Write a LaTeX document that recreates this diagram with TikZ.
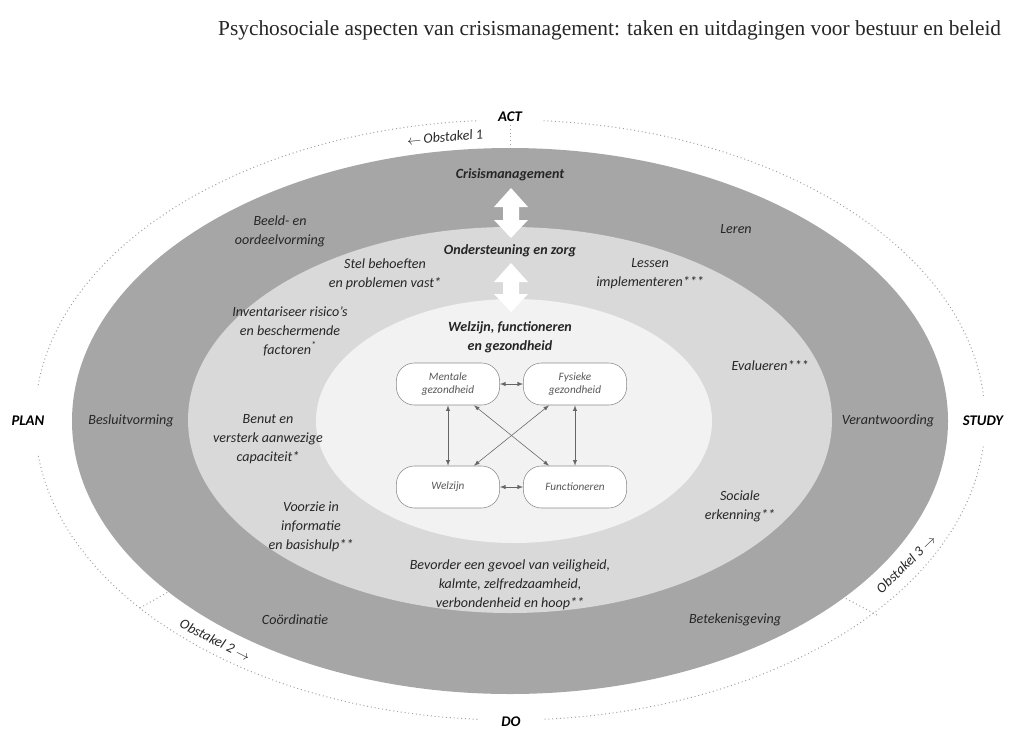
\documentclass[tikz,border=0pt]{standalone}
\usepackage{fontspec}
\setmainfont{Carlito}
\newfontfamily\titlefont{Liberation Serif}
\usepackage{xcolor}
\usepackage{tikz}
\usetikzlibrary{arrows}
\usetikzlibrary{calc}

\definecolor{ringdark}{HTML}{A6A6A6}
\definecolor{ringmid}{HTML}{D9D9D9}
\definecolor{ringcore}{HTML}{F2F2F2}
\definecolor{dotgray}{HTML}{A0A0A0}
\definecolor{ink}{HTML}{262626}
\definecolor{boxline}{HTML}{8C8C8C}

\tikzset{
  lbl/.style={font=\itshape\fontsize{10}{13.5}\selectfont, text=ink, align=center, inner sep=1pt},
  kop/.style={font=\bfseries\itshape\fontsize{10}{13.5}\selectfont, text=ink, align=center, inner sep=1pt},
  pdsa/.style={font=\bfseries\itshape\fontsize{10.5}{12}\selectfont, text=black, fill=white},
  obst/.style={font=\itshape\fontsize{10}{12}\selectfont, text=ink, inner sep=1pt},
  statebox/.style={draw=boxline, fill=white, rounded corners=0.45cm, minimum width=2.58cm, minimum height=1.05cm, align=center, font=\itshape\fontsize{8}{9.5}\selectfont, text=black!65},
  link/.style={<->, >=latex, draw=black!60, line width=0.4pt},
  ring/.style={dotted, draw=dotgray, line width=0.7pt}
}

\begin{document}
\begin{tikzpicture}[x=0.025cm,y=-0.025cm]
\useasboundingbox (0,0) rectangle (1018,731);

\node[anchor=east, font=\titlefont\fontsize{15.2}{17}\selectfont, text=black!85] (title) at (1006,30) {Psychosociale aspecten van crisismanagement: taken en uitdagingen voor bestuur en beleid};

% PDSA cyclus
\draw[ring] (510,420) ellipse [x radius=475, y radius=300];
\node[pdsa, inner xsep=15pt, inner ysep=2pt] (act) at (510,117) {ACT};
\node[pdsa, inner xsep=2pt, inner ysep=20pt] (plan) at (28,421) {PLAN};
\node[pdsa, inner xsep=2pt, inner ysep=14pt] (study) at (983,421) {STUDY};
\node[pdsa, inner xsep=16pt, inner ysep=2pt] (do) at (511,722) {DO};

% ringen
\fill[ringdark] (510,421) ellipse [x radius=438, y radius=273];
\fill[ringmid] (510,420) ellipse [x radius=322, y radius=193];
\fill[ringcore] (514,421) ellipse [x radius=198, y radius=122];

% obstakels
\coordinate (tick1) at (510,148);
\coordinate (tick2a) at (140,608);
\coordinate (tick2b) at (168,592);
\coordinate (tick3a) at (877,615);
\coordinate (tick3b) at (845,598);
\draw[ring] (act.south) -- (tick1);
\draw[ring] (tick2a) -- (tick2b);
\draw[ring] (tick3a) -- (tick3b);
\node[obst, rotate=5] (obst1) at (445,137) {$\leftarrow$\,Obstakel 1};
\node[obst, rotate=-27] (obst2) at (215,640) {Obstakel 2 $\rightarrow$};
\node[obst, rotate=44] (obst3) at (906,564) {Obstakel 3 $\rightarrow$};

% koppen en pijlen
\node[kop] (crisis) at (510,175) {Crisismanagement};
\node[kop] (zorg) at (510,251) {Ondersteuning en zorg};
\node[kop] (welzijnkop) at (510,337) {Welzijn, functioneren\\en gezondheid};
\fill[white] (511,188) -- (528,207) -- (519,207) -- (519,220) -- (528,220) -- (511,238)
  -- (494,220) -- (503,220) -- (503,207) -- (494,207) -- cycle;
\fill[white] (511,263) -- (528,282) -- (519,282) -- (519,294) -- (528,294) -- (511,312)
  -- (494,294) -- (503,294) -- (503,282) -- (494,282) -- cycle;

% buitenste ring
\node[lbl] (beeld) at (280,231) {Beeld- en\\oordeelvorming};
\node[lbl] (leren) at (736,229) {Leren};
\node[lbl] (besluit) at (131,421) {Besluitvorming};
\node[lbl] (verantw) at (888,421) {Verantwoording};
\node[lbl] (coord) at (295,620) {Coördinatie};
\node[lbl] (betekenis) at (735,620) {Betekenisgeving};

% middelste ring
\node[lbl] (stel) at (385,274) {Stel behoeften\\en problemen vast*};
\node[lbl] (lessen) at (650,274) {Lessen\\implementeren***};
\node[lbl] (invent) at (290,331) {Inventariseer risico’s\\en beschermende\\factoren\textsuperscript{*}};
\node[lbl] (evalueren) at (770,366) {Evalueren***};
\node[lbl] (benut) at (268,439) {Benut en\\versterk aanwezige\\capaciteit*};
\node[lbl] (voorzie) at (311,527) {Voorzie in\\informatie\\en basishulp**};
\node[lbl] (sociale) at (740,506) {Sociale\\erkenning**};
\node[lbl] (bevorder) at (510,585) {Bevorder een gevoel van veiligheid,\\kalmte, zelfredzaamheid,\\verbondenheid en hoop**};

% kern
\node[statebox] (mentaal) at (448,384) {Mentale\\gezondheid};
\node[statebox] (fysiek) at (575,384) {Fysieke\\gezondheid};
\node[statebox] (welzijn) at (448,487) {Welzijn};
\node[statebox] (functie) at (575,487) {Functioneren};
\draw[link] (mentaal) -- (fysiek);
\draw[link] (welzijn) -- (functie);
\draw[link] (mentaal) -- (welzijn);
\draw[link] (fysiek) -- (functie);
\draw[link] ($(mentaal.south)!0.5!(mentaal.south east)$) -- ($(functie.north)!0.5!(functie.north west)$);
\draw[link] ($(fysiek.south)!0.5!(fysiek.south west)$) -- ($(welzijn.north)!0.5!(welzijn.north east)$);

\end{tikzpicture}
\end{document}
